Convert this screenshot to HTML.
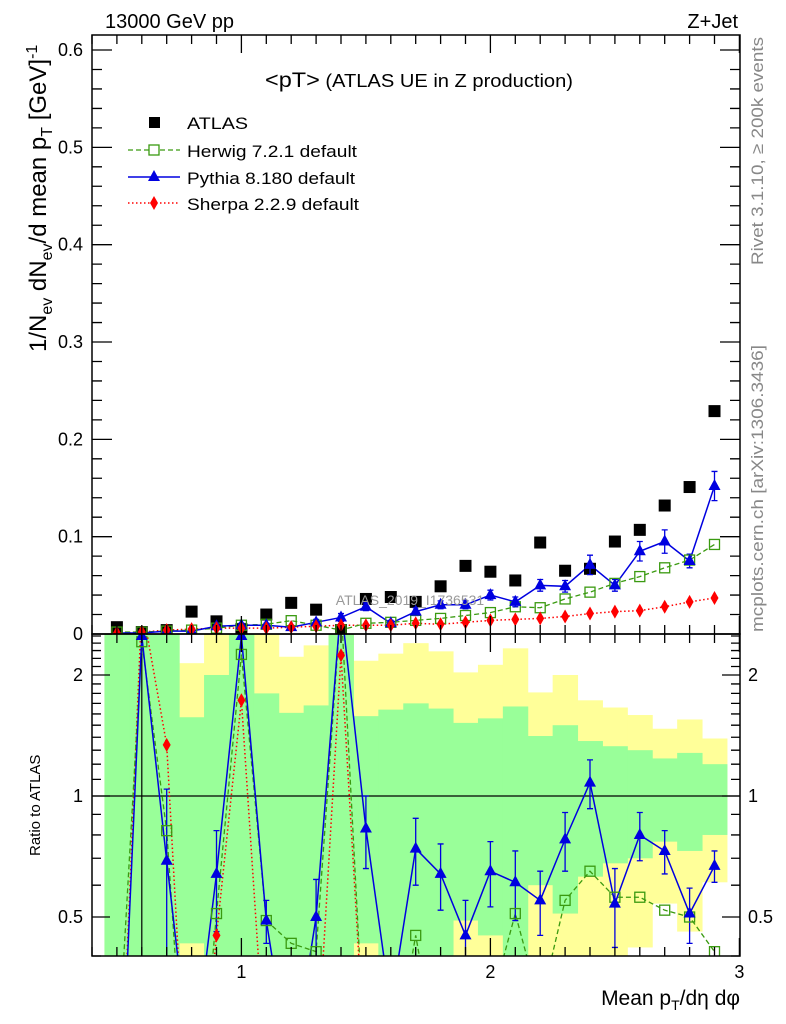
<!DOCTYPE html>
<html><head><meta charset="utf-8"><style>
html,body{margin:0;padding:0;background:#fff;overflow:hidden;width:786px;height:1024px;}
svg{font-family:"Liberation Sans",sans-serif;display:block;}
</style></head><body>
<svg id="c" width="786" height="1024" xmlns="http://www.w3.org/2000/svg">
<defs>
<clipPath id="cm"><rect x="92" y="35" width="648" height="599"/></clipPath>
<clipPath id="cr"><rect x="92" y="634" width="648" height="322"/></clipPath>
</defs>
<g id="bands" clip-path="url(#cr)"></g>
<g id="marks"></g>
<g id="axes"></g>
<text x="105" y="28" font-size="20">13000 GeV pp</text>
<text x="738" y="28" font-size="20" text-anchor="end">Z+Jet</text>
<text x="265" y="87" font-size="18" textLength="308" lengthAdjust="spacingAndGlyphs"><tspan font-size="21">&lt;pT&gt;</tspan> (ATLAS UE in Z production)</text>
<text x="410" y="605" font-size="14" fill="#999" text-anchor="middle">ATLAS_2019_I1736531</text>
<text transform="translate(763,265) rotate(-90)" font-size="17" fill="#888" textLength="228" lengthAdjust="spacingAndGlyphs">Rivet 3.1.10, ≥ 200k events</text>
<text transform="translate(763,632) rotate(-90)" font-size="17" fill="#888" textLength="287" lengthAdjust="spacingAndGlyphs">mcplots.cern.ch [arXiv:1306.3436]</text>
<text transform="translate(46,352) rotate(-90)" font-size="24">1/N<tspan font-size="16" dy="6">ev</tspan><tspan dy="-6"> dN</tspan><tspan font-size="16" dy="6">ev</tspan><tspan dy="-6">/d mean p</tspan><tspan font-size="16" dy="6">T</tspan><tspan dy="-6"> [GeV]</tspan><tspan font-size="16" dy="-9">-1</tspan></text>
<text transform="translate(40,856) rotate(-90)" font-size="15">Ratio to ATLAS</text>
<text x="740" y="1005" font-size="21" text-anchor="end">Mean p<tspan font-size="14" dy="5">T</tspan><tspan dy="-5">/dη dφ</tspan></text>
<g id="legend">
<rect x="149" y="117" width="11" height="11" fill="#000"/>
<text x="187" y="129" font-size="17" textLength="61" lengthAdjust="spacingAndGlyphs">ATLAS</text>
<line x1="128" y1="150" x2="180" y2="150" stroke="#3a9a10" stroke-width="1.3" stroke-dasharray="5,3"/>
<rect x="149" y="145" width="10" height="10" fill="#fff" stroke="#3a9a10" stroke-width="1.3"/>
<text x="187" y="157" font-size="17" textLength="170" lengthAdjust="spacingAndGlyphs">Herwig 7.2.1 default</text>
<line x1="128" y1="177" x2="180" y2="177" stroke="#0000e0" stroke-width="1.5"/>
<polygon points="154,170 160,181 148,181" fill="#0000e0"/>
<text x="187" y="184" font-size="17" textLength="168" lengthAdjust="spacingAndGlyphs">Pythia 8.180 default</text>
<line x1="128" y1="203" x2="180" y2="203" stroke="#f00" stroke-width="1.5" stroke-dasharray="1.5,2.5"/>
<polygon points="154,196 158,203 154,210 150,203" fill="#f00"/>
<text x="187" y="210" font-size="17" textLength="172" lengthAdjust="spacingAndGlyphs">Sherpa 2.2.9 default</text>
</g>
</svg>
<script>
const xCenters=[0.5,0.6,0.7,0.8,0.9,1.0,1.1,1.2,1.3,1.4,1.5,1.6,1.7,1.8,1.9,2.0,2.1,2.2,2.3,2.4,2.5,2.6,2.7,2.8,2.9];
const atlasVals=[0.007,0.002,0.004,0.023,0.013,0.005,0.020,0.032,0.025,0.004,0.036,0.038,0.033,0.049,0.070,0.064,0.055,0.094,0.065,0.067,0.095,0.107,0.132,0.151,0.229];
const herwigVals=[0.002,0.002,0.003,0.004,0.006,0.009,0.010,0.0137,0.009,0.004,0.011,0.012,0.014,0.016,0.019,0.022,0.028,0.027,0.036,0.043,0.052,0.059,0.068,0.076,0.092];
const pythiaVals=[0.001,0.001,0.003,0.003,0.008,0.009,0.009,0.007,0.012,0.017,0.028,0.011,0.023,0.030,0.030,0.040,0.033,0.050,0.049,0.071,0.050,0.085,0.095,0.075,0.152];
const pythiaErr=[0,0,0,0,0.002,0.002,0.002,0.002,0.003,0.004,0.004,0.003,0.004,0.004,0.004,0.005,0.005,0.006,0.006,0.010,0.006,0.010,0.012,0.007,0.015];
const sherpaVals=[0.001,0.002,0.004,0.005,0.006,0.006,0.006,0.007,0.008,0.009,0.009,0.009,0.011,0.010,0.012,0.014,0.015,0.016,0.018,0.021,0.023,0.024,0.028,0.033,0.037];
const herwigRatio=[0.2,2.42,0.82,0.1,0.51,2.25,0.49,0.43,0.41,3.0,0.2,0.2,0.45,0.2,0.2,0.3,0.51,0.3,0.55,0.65,0.56,0.56,0.52,0.50,0.41];
const pythiaRatio=[0.1,2.5,0.69,0.2,0.64,2.5,0.49,0.2,0.50,3.0,0.83,0.3,0.74,0.64,0.45,0.65,0.61,0.55,0.78,1.08,0.54,0.80,0.73,0.51,0.67];
const pythiaRatioErr=[0,0,0.35,0,0.18,0,0.06,0,0.12,0,0.17,0,0.14,0.12,0.10,0.12,0.12,0.10,0.13,0.15,0.12,0.11,0.09,0.08,0.06];
const sherpaRatio=[0.1,3.0,1.34,0.1,0.45,1.73,0.2,0.2,0.2,2.24,0.2,0.2,0.2,0.2,0.2,0.2,0.2,0.2,0.2,0.2,0.2,0.2,0.2,0.2,0.2];
const greenTop=[3,3,3,1.57,2.0,3,1.8,1.61,1.68,3,1.58,1.64,1.7,1.65,1.52,1.56,1.67,1.41,1.5,1.37,1.33,1.30,1.24,1.28,1.20];
const greenBot=[0.3,0.3,0.3,0.43,0.3,0.3,0.3,0.3,0.3,0.3,0.43,0.3,0.3,0.3,0.49,0.45,0.3,0.60,0.51,0.63,0.68,0.70,0.77,0.73,0.80];
const yellowTop=[3,3,3,2.14,3,3,3,2.22,2.37,3,2.17,2.26,2.4,2.29,2.03,2.12,2.33,1.81,2.0,1.73,1.66,1.59,1.47,1.55,1.39];
const yellowBot=[0.3,0.3,0.3,0.3,0.3,0.3,0.3,0.3,0.3,0.3,0.3,0.3,0.3,0.3,0.3,0.3,0.3,0.3,0.3,0.3,0.3,0.42,0.54,0.46,0.61];
const mainTicks=[0,0.1,0.2,0.3,0.4,0.5,0.6];
const ratioTicks=[0.5,1,2];
const xTicks=[1,2,3];

const NS="http://www.w3.org/2000/svg";
const X=v=>92+(v-0.4)*249;
const Y=v=>634-v*973.3;
const R=v=>796-402*Math.log10(v);
function mk(parent,tag,attrs){const e=document.createElementNS(NS,tag);for(const k in attrs)e.setAttribute(k,attrs[k]);document.getElementById(parent).appendChild(e);return e;}
xCenters.forEach((x,i)=>{
 let e=mk('bands','rect',{x:X(x-0.05),y:R(yellowTop[i]),width:X(x+0.05)-X(x-0.05)+0.5,height:R(yellowBot[i])-R(yellowTop[i]),fill:'#ffff99'});
 
 
});
xCenters.forEach((x,i)=>{
 let e=mk('bands','rect',{x:X(x-0.05),y:R(greenTop[i]),width:X(x+0.05)-X(x-0.05)+0.5,height:R(greenBot[i])-R(greenTop[i]),fill:'#99ff99'});
 
 
});
let l1=mk('marks','line',{x1:92,x2:740,y1:R(1),y2:R(1),stroke:'#000','stroke-width':1.2});


let l2=mk('marks','line',{x1:X(0.6),x2:X(0.6),y1:634,y2:956,stroke:'#000','stroke-width':1.2});


function series(vals,fy,clip,color,dash,w,name){
 const pts=xCenters.map((x,i)=>X(x)+','+fy(vals[i])).join(' ');
 let p=mk('marks','polyline',{points:pts,fill:'none',stroke:color,'stroke-width':w,'stroke-dasharray':dash,'clip-path':clip});
 
 
}
function marker(type,cx,cy,clip,name){
 let e;
 if(type==='sq') e=mk('marks','rect',{x:cx-6,y:cy-6,width:12,height:12,fill:'#000','clip-path':clip});
 else if(type==='hsq') e=mk('marks','rect',{x:cx-5,y:cy-5,width:10,height:10,fill:'none',stroke:'#3a9a10','stroke-width':1.3,'clip-path':clip});
 else if(type==='tri') e=mk('marks','polygon',{points:`${cx},${cy-7} ${cx+6},${cy+4} ${cx-6},${cy+4}`,fill:'#0000e0','clip-path':clip});
 else e=mk('marks','polygon',{points:`${cx},${cy-7} ${cx+4},${cy} ${cx},${cy+7} ${cx-4},${cy}`,fill:'#f00','clip-path':clip});
 
 
}
function errbar(cx,y1,y2,clip,name){
 let e=mk('marks','path',{d:`M${cx},${y1}V${y2}M${cx-3},${y1}H${cx+3}M${cx-3},${y2}H${cx+3}`,stroke:'#0000e0','stroke-width':1.3,fill:'none','clip-path':clip});
 
 
}
series(sherpaVals,Y,'url(#cm)','#f00','1.5,2.5',1.5,'sherpa-line');
series(herwigVals,Y,'url(#cm)','#3a9a10','5,3',1.3,'herwig-line');
series(pythiaVals,Y,'url(#cm)','#0000e0','none',1.5,'pythia-line');
xCenters.forEach((x,i)=>{
 marker('sq',X(x),Y(atlasVals[i]),'url(#cm)','atlas-point');
 if(pythiaErr[i]>0) errbar(X(x),Y(pythiaVals[i]+pythiaErr[i]),Y(pythiaVals[i]-pythiaErr[i]),'url(#cm)','pythia-errorbar');
 marker('hsq',X(x),Y(herwigVals[i]),'url(#cm)','herwig-point');
 marker('tri',X(x),Y(pythiaVals[i]),'url(#cm)','pythia-point');
 marker('dia',X(x),Y(sherpaVals[i]),'url(#cm)','sherpa-point');
});
series(sherpaRatio,R,'url(#cr)','#f00','1.5,2.5',1.5,'sherpa-ratio-line');
series(herwigRatio,R,'url(#cr)','#3a9a10','5,3',1.3,'herwig-ratio-line');
series(pythiaRatio,R,'url(#cr)','#0000e0','none',1.5,'pythia-ratio-line');
xCenters.forEach((x,i)=>{
 if(pythiaRatioErr[i]>0) errbar(X(x),R(pythiaRatio[i]+pythiaRatioErr[i]),R(pythiaRatio[i]-pythiaRatioErr[i]),'url(#cr)','pythia-ratio-errorbar');
 marker('hsq',X(x),R(herwigRatio[i]),'url(#cr)','herwig-ratio-point');
 marker('tri',X(x),R(pythiaRatio[i]),'url(#cr)','pythia-ratio-point');
 marker('dia',X(x),R(sherpaRatio[i]),'url(#cr)','sherpa-ratio-point');
});
let d='';
for(let v=0;v<=0.62;v+=0.02){const y=Y(v);const L=Math.abs(v*10-Math.round(v*10))<1e-6?20:10;d+=`M92,${y}h${L}M740,${y}h${-L}`;}
for(let v=0.4;v<=3.0001;v+=0.1){const x=X(v);const L=Math.abs(v-Math.round(v))<1e-6?18:9;d+=`M${x},634v${-L}M${x},35v${L}M${x},956v${-L}M${x},634v${L}`;}
[0.4,0.5,0.6,0.7,0.8,0.9,1,2].forEach(v=>{const y=R(v);const L=(v===0.5||v===1||v===2)?18:9;d+=`M92,${y}h${L}M740,${y}h${-L}`;});
for(let v=1.1;v<2.55;v+=0.1){const y=R(v);if(Math.abs(v-2)>1e-6)d+=`M92,${y}h9M740,${y}h-9`;}
let ax=mk('axes','path',{d:d,stroke:'#000','stroke-width':1.3,fill:'none'});


let f1=mk('axes','rect',{x:92,y:35,width:648,height:599,fill:'none',stroke:'#000','stroke-width':1.5});


let f2=mk('axes','rect',{x:92,y:634,width:648,height:322,fill:'none',stroke:'#000','stroke-width':1.5});


mainTicks.forEach(v=>{
 let t=mk('axes','text',{x:83,y:Y(v)+6,'font-size':18,'text-anchor':'end'});t.textContent=v===0?'0':v.toFixed(1);
 
 
});
ratioTicks.forEach(v=>{
 let t=mk('axes','text',{x:83,y:R(v)+6,'font-size':18,'text-anchor':'end'});t.textContent=String(v);
 
 
 let t2=mk('axes','text',{x:748,y:R(v)+6,'font-size':18});t2.textContent=String(v);
 
 
});
xTicks.forEach(v=>{
 let t=mk('axes','text',{x:X(v),y:978,'font-size':18,'text-anchor':'middle'});t.textContent=String(v);
 
 
});
</script>
</body></html>
